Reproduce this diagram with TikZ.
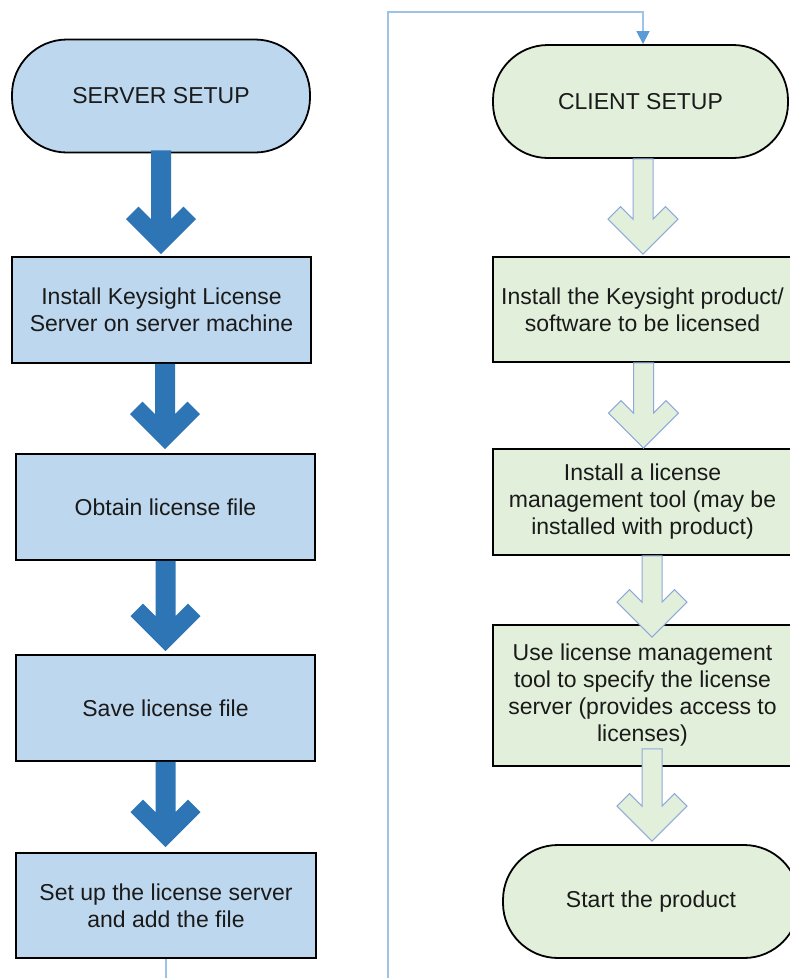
\documentclass[tikz,border=0pt]{standalone}
\usepackage{fontspec}
\setmainfont{Liberation Sans}
\usetikzlibrary{arrows.meta,calc}
\definecolor{srvfill}{HTML}{BDD7EE}
\definecolor{clifill}{HTML}{E2EFDA}
\definecolor{srvarrow}{HTML}{2E75B6}
\definecolor{cliedge}{HTML}{8EAADB}
\definecolor{linkline}{HTML}{9DC3E6}
\definecolor{linktip}{HTML}{5B9BD5}
\definecolor{txt}{HTML}{1A1A1A}
% style, from, to, dx, dy-start, dy-tip
\newcommand{\blockarrow}[6]{%
  \path[#1] let \p1=($(#2.south)+(#4,#5)$), \p2=($(#3.north)+(#4,#6)$) in
    (\x1-10pt,\y1) -- (\x1-10pt,\y2+35pt) -- (\x1-22.5pt,\y2+47.5pt) -- (\x1-35pt,\y2+35pt)
    -- (\x1,\y2) -- (\x1+35pt,\y2+35pt) -- (\x1+22.5pt,\y2+47.5pt) -- (\x1+10pt,\y2+35pt)
    -- (\x1+10pt,\y1) -- cycle;}
\tikzset{
  base/.style={draw=black, line width=1.8pt, text=txt, align=center, inner sep=0pt,
    font=\fontsize{23}{27}\selectfont},
  term/.style={base, rounded corners=55pt, minimum height=113pt},
  box/.style={base, rectangle},
  srv/.style={fill=srvfill},
  cli/.style={fill=clifill},
  srvarr/.style={fill=srvarrow},
  cliarr/.style={fill=clifill, draw=cliedge, line width=1pt, line join=miter},
  link/.style={draw=linkline, line width=1.5pt, -{Triangle[width=13pt,length=13pt,color=linktip]}}
}
\begin{document}
\begin{tikzpicture}[x=1pt,y=-1pt]
\useasboundingbox (0,0) rectangle (790,978);
\clip (0,0) rectangle (790,978);
\fill[white] (0,0) rectangle (790,978);

% server column
\node[term, srv, minimum width=298pt] (sst) at (161,96) {SERVER SETUP};
\node[box, srv, minimum width=299pt, minimum height=106pt] (s1) at (161.5,310) {Install Keysight License\\Server on server machine};
\node[box, srv, minimum width=299pt, minimum height=106pt] (s2) at (165.5,507) {Obtain license file};
\node[box, srv, minimum width=299pt, minimum height=106pt] (s3) at (165.5,708) {Save license file};
\node[box, srv, minimum width=300pt, minimum height=105pt] (s4) at (166,905.5) {Set up the license server\\and add the file};

% client column
\node[term, cli, minimum width=295pt] (cst) at (640.5,101.5) {CLIENT SETUP};
\node[box, cli, minimum width=299pt, minimum height=105pt] (c1) at (642.5,309.5) {Install the Keysight product/\\software to be licensed};
\node[box, cli, minimum width=299pt, minimum height=106pt] (c2) at (642.5,502) {Install a license\\management tool (may be\\installed with product)};
\node[box, cli, minimum width=299pt, minimum height=141pt] (c3) at (642.5,695.5) {Use license management\\tool to specify the license\\server (provides access to\\licenses)};
\node[term, cli, minimum width=296pt] (c4) at (651,901.5) {Start the product};

% block arrows
\blockarrow{srvarr}{sst}{s1}{0}{-3}{-2}
\blockarrow{srvarr}{s1}{s2}{3.5}{0}{-4}
\blockarrow{srvarr}{s2}{s3}{0}{0}{-3}
\blockarrow{srvarr}{s3}{s4}{0}{0}{-5}
\blockarrow{cliarr}{cst}{c1}{2.5}{0}{-2}
\blockarrow{cliarr}{c1}{c2}{1}{0}{0}
\blockarrow{cliarr}{c2}{c3}{9.5}{0}{13}
\blockarrow{cliarr}{c3}{c4}{9.5}{-18}{-3}

% link from server setup to client setup
\coordinate (lbot) at (388,995);
\coordinate (ltop) at (388,12);
\draw[link] (s4.south) |- (lbot) -- (ltop) -| ($(cst.north)+(2.5,0)$);
\end{tikzpicture}
\end{document}
